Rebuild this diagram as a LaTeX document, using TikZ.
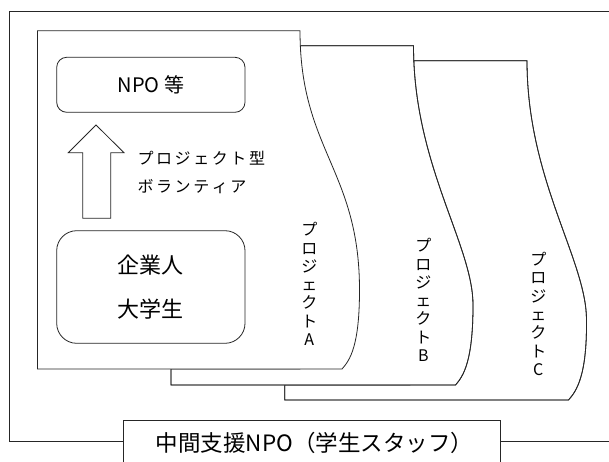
\documentclass[tikz,border=0pt]{standalone}
\usepackage{fontspec}
\setmainfont{Noto Sans CJK JP}
\newcommand{\tk}[1]{\makebox[18.6pt]{#1}}
\begin{document}
\begin{tikzpicture}[x=1pt,y=-1pt,
  line/.style={draw=black!85, line width=0.8pt},
  page/.style={line, fill=white},
  rbox/.style={line, fill=white, minimum width=188.3pt, inner sep=0pt},
  vlabel/.style={align=center, inner sep=0pt, font=\fontsize{16}{18.3}\selectfont},
  sidetext/.style={align=left, inner sep=0pt, anchor=west, font=\fontsize{16}{28}\selectfont},
  label/.style={line, fill=white, inner sep=0pt, font=\fontsize{22}{26}\selectfont}]
\useasboundingbox (0,0) rectangle (609,462);
% outer frame
\draw[line] (9.7,441.7) -- (9.7,11.7) -- (640,11.7);
\draw[line] (9.7,441.7) -- (640,441.7);
% page C
\path[page] (284.7,385) -- (284.7,400) -- (568.5,400)
  .. controls (576.5,391) and (587,376) .. (586.5,320)
  .. controls (586.5,260) and (527,180) .. (527,60.7)
  -- (410,60.7) -- (410,385) -- cycle;
\draw[line] (284.7,385) -- (284.7,400) -- (568.5,400)
  .. controls (576.5,391) and (587,376) .. (586.5,320)
  .. controls (586.5,260) and (527,180) .. (527,60.7)
  -- (410,60.7);
% page B
\path[page] (171,369) -- (171,385) -- (455.5,385)
  .. controls (463.5,376) and (473,361) .. (473,305)
  .. controls (473,245) and (413.5,165) .. (413.5,45.7)
  -- (300,45.7) -- (300,369) -- cycle;
\draw[line] (171,369) -- (171,385) -- (455.5,385)
  .. controls (463.5,376) and (473,361) .. (473,305)
  .. controls (473,245) and (413.5,165) .. (413.5,45.7)
  -- (300,45.7);
% page A
\draw[page] (37.5,30.7) -- (300,30.7)
  .. controls (300,150) and (359.5,170) .. (359.5,290)
  .. controls (359.5,346) and (350,360) .. (342,369)
  -- (37.5,369) -- cycle;
% boxes
\node[rbox, rounded corners=10pt, minimum height=55pt, font=\fontsize{20}{24}\selectfont] (npo) at (150.85,84.8) {NPO 等};
\node[rbox, rounded corners=20pt, minimum height=112.6pt, align=center, font=\fontsize{22}{43.7}\selectfont] (people) at (150.85,287) {企業人\\大学生};
% up arrow
\coordinate (tip) at (96,125);
\draw[line, fill=white] (82.7,218.3) -- (82.7,152.7) -- (68.3,152.7) -- (tip)
  -- (124,152.7) -- (110.7,152.7) -- (110.7,218.3) -- cycle;
\node[sidetext] (vol) at (136,172.5) {\tk{プ}\tk{ロ}\tk{ジ}\tk{ェ}\tk{ク}\tk{ト}\tk{型}\\\tk{ボ}\tk{ラ}\tk{ン}\tk{テ}\tk{ィ}\tk{ア}};
% vertical labels
\node[vlabel] (pa) at (309.3,284) {プ\\ロ\\ジ\\ェ\\ク\\ト\\A};
\node[vlabel] (pb) at (423.3,300) {プ\\ロ\\ジ\\ェ\\ク\\ト\\B};
\node[vlabel] (pc) at (538.3,314) {プ\\ロ\\ジ\\ェ\\ク\\ト\\C};
% bottom label box
\draw[line, fill=white] (123.5,470) -- (123.5,420.5) -- (500,420.5) -- (500,470);
\node[inner sep=0pt, font=\fontsize{22.5}{26}\selectfont] (mid) at (314.5,443) {中間支援NPO（学生スタッフ）};
\end{tikzpicture}
\end{document}
